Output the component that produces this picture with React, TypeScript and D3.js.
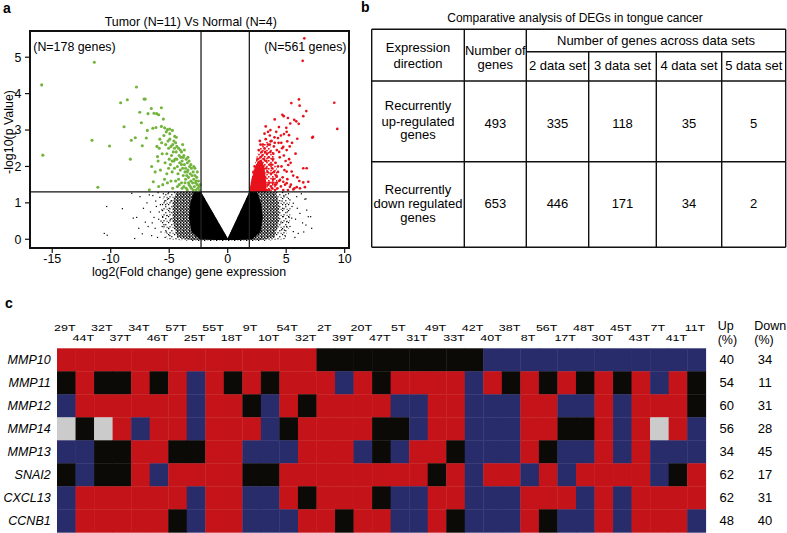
import React from 'react';
import * as d3 from 'd3';

const FONT = '"Liberation Sans", Arial, Helvetica, sans-serif';

// ---------------- Panel a: volcano plot ----------------
const volcanoTitle = 'Tumor (N=11) Vs Normal (N=4)';
const volcanoXLabel = 'log2(Fold change) gene expression';
const volcanoYLabel = '-log10(p Value)';
const xTicks = [-15, -10, -5, 0, 5, 10];
const yTicks = [0, 1, 2, 3, 4, 5];
const fcThresholds = [-2.28, 1.85];
const pThreshold = 1.3;
const downGenes = 178;
const upGenes = 561;

const greenPoints: [number, number][] = [
  [-15.9, 4.24], [-11.4, 4.86], [-15.8, 2.31], [-11.6, 2.72], [-11.1, 1.43], [-10.1, 2.56],
  [-9.15, 3.75], [-8.58, 3.83], [-7.8, 4.18], [-7.15, 3.85], [-7.05, 3.85], [-8.86, 3.09],
  [-8.32, 2.2], [-8.24, 2.72], [-7.9, 2.79], [-7.52, 3.49], [-7.38, 3.2], [-6.96, 2.78],
  [-6.87, 2.99], [-6.81, 3.45], [-6.53, 3.59], [-6.3, 3.46], [-6.07, 3.45], [-5.9, 3.42],
  [-5.67, 3.61], [-6.4, 3.05], [-6.13, 3.07], [-5.67, 3.1], [-5.39, 3.06], [-5.16, 3.01],
  [-4.96, 3.03], [-4.73, 2.99], [-4.53, 2.83],
  [-6.5, 2.0], [-6.36, 1.58], [-6.7, 1.36], [-7.3, 2.57], [-6.0, 2.27], [-6.2, 1.85],
  [-5.9, 1.45], [-6.05, 2.55], [-5.8, 2.75], [-5.95, 2.15],
  [-5.75, 1.9], [-5.6, 2.35], [-5.55, 1.5], [-5.85, 2.5], [-5.5, 3.3], [-5.65, 2.65],
  [-5.45, 2.85], [-5.3, 2.6], [-5.2, 2.35], [-5.1, 2.7], [-5.35, 2.1], [-5.2, 1.8],
  [-5.05, 2.5], [-5.15, 1.55], [-5.4, 1.65], [-5.0, 2.2], [-5.25, 2.95], [-5.05, 1.95],
  [-4.95, 2.75], [-4.85, 2.55], [-4.8, 2.3], [-4.9, 2.05], [-4.75, 1.85], [-4.7, 2.6],
  [-4.65, 2.4], [-4.6, 2.15], [-4.55, 1.95], [-4.85, 1.6], [-4.7, 1.4], [-4.6, 2.7],
  [-4.95, 2.9], [-4.55, 2.5], [-4.75, 2.15],
  [-4.45, 2.65], [-4.4, 2.4], [-4.35, 2.2], [-4.3, 2.0], [-4.25, 1.8], [-4.45, 1.6],
  [-4.2, 2.5], [-4.15, 2.3], [-4.1, 2.1], [-4.05, 1.9], [-4.4, 2.8], [-4.3, 1.45],
  [-4.2, 1.65], [-4.05, 2.45], [-4.35, 2.55], [-4.15, 1.5], [-4.0, 2.25], [-4.5, 2.2],
  [-3.95, 2.4], [-3.9, 2.15], [-3.85, 1.95], [-3.8, 1.75], [-3.95, 1.55], [-3.75, 2.3],
  [-3.7, 2.05], [-3.65, 1.85], [-3.6, 1.65], [-3.9, 1.4], [-3.55, 2.2], [-3.75, 1.45],
  [-3.6, 1.95], [-3.85, 2.6], [-3.5, 1.75], [-3.7, 2.45], [-3.55, 1.4], [-3.95, 2.05],
  [-3.8, 2.25], [-3.65, 1.55],
  [-3.45, 2.1], [-3.4, 1.9], [-3.35, 1.7], [-3.3, 1.5], [-3.45, 1.35], [-3.25, 2.0],
  [-3.2, 1.8], [-3.15, 1.6], [-3.1, 1.4], [-3.4, 2.25], [-3.05, 1.75], [-3.3, 2.15],
  [-3.2, 1.45], [-3.1, 1.95], [-3.35, 1.55], [-3.0, 1.55], [-3.45, 1.85], [-3.15, 2.05],
  [-2.95, 1.85], [-2.9, 1.65], [-2.85, 1.45], [-2.8, 1.75], [-2.75, 1.55], [-2.7, 1.35],
  [-2.65, 1.7], [-2.6, 1.5], [-2.55, 1.4], [-2.5, 1.6], [-2.45, 1.45], [-2.4, 1.35],
  [-2.95, 1.35], [-2.8, 1.95], [-2.35, 1.5], [-2.6, 1.85], [-2.7, 1.6], [-2.9, 2.0],
];

const redPoints: [number, number][] = [
  [6.55, 5.52], [6.41, 4.9], [9.11, 3.75], [9.37, 3.03], [7.23, 2.79], [5.44, 3.74],
  [6.09, 3.84], [6.15, 3.67], [6.72, 3.52], [6.46, 3.38], [5.86, 3.24], [5.69, 3.28],
  [6.07, 3.17], [5.15, 3.33], [5.35, 3.18], [4.67, 3.42], [4.79, 3.38], [4.02, 3.29],
  [4.38, 3.08], [5.01, 3.06], [5.04, 2.95], [5.95, 2.76], [7.29, 2.81], [5.24, 2.86],
  [4.81, 2.89], [3.67, 2.69], [4.02, 2.65], [4.3, 2.78], [4.58, 2.65], [5.09, 2.69],
  [4.75, 2.54], [5.04, 2.45], [5.38, 2.1], [6.46, 1.95], [6.75, 1.95], [6.12, 1.6],
  [6.46, 1.56], [6.89, 1.58], [6.6, 1.43], [6.18, 1.4], [5.9, 1.43], [5.61, 1.37],
  [5.32, 1.44], [5.04, 1.54], [4.75, 1.58], [4.47, 1.63], [4.19, 1.72], [5.04, 1.86],
  [5.47, 1.86], [5.18, 2.04],
  [2.05, 1.4], [2.1, 1.5], [2.2, 1.65], [2.25, 1.45], [2.3, 1.75], [2.35, 1.55],
  [2.4, 1.9], [2.45, 1.4], [2.15, 1.35], [2.4, 1.65], [2.3, 2.0], [2.2, 1.85],
  [2.55, 1.5], [2.6, 1.8], [2.65, 2.1], [2.7, 1.4], [2.75, 1.95], [2.8, 2.25],
  [2.85, 1.6], [2.9, 2.4], [2.95, 1.75], [2.55, 2.2], [2.65, 2.45], [2.7, 1.65],
  [2.8, 2.6], [2.6, 1.35], [2.9, 2.05], [2.95, 2.3], [2.5, 1.95], [2.75, 2.7],
  [3.05, 1.45], [3.1, 2.2], [3.15, 2.5], [3.2, 1.7], [3.25, 2.75], [3.3, 1.95],
  [3.35, 2.35], [3.4, 1.5], [3.45, 2.6], [3.05, 2.0], [3.15, 2.9], [3.3, 2.15],
  [3.4, 1.85], [3.45, 2.95], [3.2, 2.4], [3.35, 1.35], [3.1, 1.6], [3.5, 2.25],
  [3.0, 2.6], [3.25, 3.1],
  [3.55, 1.55], [3.6, 2.05], [3.65, 2.4], [3.7, 1.8], [3.75, 2.7], [3.8, 1.4],
  [3.85, 2.2], [3.9, 1.65], [3.95, 2.55], [3.6, 2.85], [3.7, 1.45], [3.8, 1.95],
  [3.9, 2.35], [3.55, 1.35], [3.65, 3.0], [3.75, 2.05], [3.85, 1.55], [3.95, 1.85],
  [3.6, 2.6],
  [4.05, 1.5], [4.1, 2.1], [4.15, 1.75], [4.2, 2.45], [4.25, 1.4], [4.3, 2.0],
  [4.35, 2.65], [4.4, 1.6], [4.45, 2.25], [4.0, 2.8], [4.15, 2.95], [4.3, 1.85],
  [4.4, 2.4], [4.05, 1.35], [4.2, 1.55],
  [4.55, 1.45], [4.6, 2.0], [4.7, 1.7], [4.8, 2.3], [4.9, 1.5], [4.65, 2.5],
  [4.85, 1.9], [4.95, 2.15], [4.55, 2.85], [4.75, 1.35],
  [5.1, 1.65], [5.25, 2.2], [5.4, 1.5], [5.6, 1.75], [5.8, 2.35], [5.3, 2.55],
  [5.7, 1.4], [5.15, 1.35], [5.95, 1.7], [5.5, 2.65],
];

const blackPoints: [number, number][] = [
  [-8.2, 1.26], [-7.5, 1.17], [-10.34, 0.9], [-9.0, 0.84], [-8.07, 0.58], [-7.78, 0.6],
  [-7.04, 0.47], [-10.55, 0.16], [-10.3, 0.11], [-7.95, 0.02],
  [-6.9, 1.0], [-6.6, 0.75], [-6.4, 1.2], [-6.2, 0.3], [-6.5, 0.1], [-6.1, 0.9],
  [-5.9, 0.55], [-5.8, 1.15], [-5.7, 0.2], [-5.6, 0.8], [-5.5, 1.25], [-5.45, 0.4],
  [-5.35, 0.05], [-5.3, 0.95], [-5.2, 0.65], [-5.15, 1.1], [-5.05, 0.3], [-5.0, 0.85],
  [-6.8, 0.35], [-7.2, 0.85], [-6.3, 0.6], [-6.0, 0.05], [-5.75, 0.95], [-5.55, 0.6],
  [-5.25, 0.2], [-7.3, 0.15], [-6.7, 1.22], [-5.95, 1.28], [-5.6, 0.35], [-5.1, 1.25],
  [-6.45, 0.45], [-7.6, 0.3], [-5.85, 0.75], [-5.4, 1.05], [-4.95, 0.1], [-4.9, 0.55],
  [-4.85, 1.05], [-5.7, 0.5], [-6.15, 1.05], [-4.95, 0.75],
  [5.9, 1.17], [6.6, 1.1], [5.32, 1.08], [5.61, 0.99], [6.89, 0.62], [7.18, 0.3],
  [6.69, 0.39], [6.18, 0.71], [5.47, 0.58], [4.75, 0.62], [5.04, 0.35], [5.61, 0.21],
  [4.61, 0.26], [6.69, 1.11], [7.09, 0.62], [6.75, 0.8], [5.5, 0.9], [5.32, 0.35],
  [6.03, 0.16], [5.04, 0.48], [4.8, 1.2], [4.95, 0.95], [5.2, 1.25], [5.1, 0.75],
  [4.7, 0.85], [4.65, 1.05], [5.8, 0.55], [6.3, 1.25], [6.4, 0.45], [5.75, 0.05],
  [4.9, 0.1], [5.25, 0.6], [4.55, 0.45], [5.95, 0.85], [6.5, 0.2], [4.85, 0.25],
];

// dense black clouds (outlines of the regions packed with points)
const blackCoreLeft: [number, number][] = [
  [0, 0.03], [-2.28, 1.3], [-2.9, 1.3], [-3.2, 1.0], [-3.3, 0.6], [-3.1, 0.2], [-2.4, 0.0], [-1.0, -0.02], [0, -0.02],
];
const blackCoreRight: [number, number][] = [
  [0, 0.03], [1.85, 1.3], [2.5, 1.3], [2.85, 1.0], [3.0, 0.6], [2.8, 0.2], [2.1, 0.0], [0.8, -0.02], [0, -0.02],
];
const blackMidLeft: [number, number][] = [
  [0, 0.02], [-2.28, 1.3], [-4.4, 1.3], [-4.7, 1.0], [-4.7, 0.5], [-4.3, 0.05], [-3.0, -0.03], [0, -0.03],
];
const blackMidRight: [number, number][] = [
  [0, 0.02], [1.85, 1.3], [4.1, 1.3], [4.4, 1.0], [4.4, 0.5], [4.0, 0.05], [2.8, -0.03], [0, -0.03],
];
const blackOuterLeft: [number, number][] = [
  [0, 0.0], [-2.28, 1.3], [-5.4, 1.3], [-5.7, 0.9], [-5.6, 0.4], [-5.2, 0.0], [-3.0, -0.05], [0, -0.05],
];
const blackOuterRight: [number, number][] = [
  [0, 0.0], [1.85, 1.3], [5.1, 1.3], [5.4, 0.9], [5.3, 0.4], [4.9, 0.0], [3.0, -0.05], [0, -0.05],
];
const redCore: [number, number][] = [
  [1.85, 1.3], [2.0, 1.6], [2.3, 1.95], [2.6, 2.15], [2.9, 2.2], [3.15, 1.95], [3.3, 1.55], [3.3, 1.3],
];
const redHalo: [number, number][] = [
  [1.85, 1.3], [2.1, 1.8], [2.5, 2.3], [2.9, 2.6], [3.4, 2.7], [3.9, 2.4], [4.2, 1.9], [4.3, 1.3],
];

// ---------------- Panel b: table ----------------
const tableTitle = 'Comparative analysis of DEGs in tongue cancer';
const dataSetHeaders = ['2 data set', '3 data set', '4 data set', '5 data set'];
const directionLabels = [
  ['Recurrently', 'up-regulated', 'genes'],
  ['Recurrently', 'down regulated', 'genes'],
];
const totalGenes = [493, 653];
const genesAcross = [
  [335, 118, 35, 5],
  [446, 171, 34, 2],
];

// ---------------- Panel c: heatmap ----------------
const sampleLabels = [
  '29T', '44T', '32T', '37T', '34T', '46T', '57T', '25T', '55T', '18T', '9T', '10T',
  '54T', '32T', '2T', '39T', '20T', '47T', '5T', '31T', '49T', '33T', '42T', '40T',
  '38T', '8T', '56T', '17T', '48T', '30T', '45T', '43T', '7T', '41T', '11T',
];
const geneLabels = ['MMP10', 'MMP11', 'MMP12', 'MMP14', 'MMP13', 'SNAI2', 'CXCL13', 'CCNB1'];
// R = up, B = down, K = no change, G = not available
const heatRows = [
  'RRRRRRRRRRRRRR' + 'KKKKKKKKK' + 'BBBBBBBBBBBB',
  'KRKKR' + 'KRBRK' + 'RKRRR' + 'BRKRR' + 'RRBRK' + 'RKRKR' + 'KRBRK',
  'BRRRR' + 'RRBRR' + 'KBRKR' + 'RRRBB' + 'RRBBB' + 'RRBBR' + 'BRRRK',
  'GKGRB' + 'RRBRR' + 'RBKRR' + 'RRKKB' + 'RRBBB' + 'RRKKR' + 'BRGRB',
  'BBKKR' + 'RKKRR' + 'BBBRR' + 'RBKBR' + 'RKBBB' + 'RKBBR' + 'BRBBB',
  'KBKKR' + 'BRRRR' + 'KKRRR' + 'RRRRR' + 'KRBRR' + 'BRBRR' + 'RRBKR',
  'BRRRR' + 'RRBRR' + 'BBRKR' + 'RRKBB' + 'RRBBB' + 'RRRBR' + 'BRRRR',
  'BRRRR' + 'RKBRR' + 'BBBRR' + 'KRRBB' + 'RKBBB' + 'RKBBR' + 'BRRRB',
];
const upPercent = [40, 54, 60, 56, 34, 62, 62, 48];
const downPercent = [34, 11, 31, 28, 45, 17, 31, 40];

const cellColor: Record<string, string> = {
  R: '#c51419',
  B: '#282c6b',
  K: '#0c0a07',
  G: '#cbcbcb',
};

export default function App() {
  const W = 787;
  const H = 533;

  // ---- volcano scales
  const xV = d3.scaleLinear().domain([-16.9, 10.37]).range([30, 349]);
  const yV = d3.scaleLinear().domain([-0.24, 5.72]).range([248, 31]);
  const area = (pts: [number, number][]) =>
    (d3.line<[number, number]>().x((d) => xV(d[0])).y((d) => yV(d[1]))(pts) || '') + 'Z';

  // ---- table layout
  const tCols = [371.7, 464.3, 526.3, 588.7, 656.3, 721.7, 785.7];
  const tRows = [29.3, 81, 161.7, 247.3];
  const tSub = 51.7;
  const colMid = (i: number) => (tCols[i] + tCols[i + 1]) / 2;
  const rowTextBase = [
    [110, 125.5, 139],
    [193.5, 207.5, 221.5],
  ];
  const rowNumBase = [128.3, 208.3];

  // ---- heatmap scales
  const xH = d3.scaleBand<number>().domain(d3.range(sampleLabels.length)).range([57, 705.7]);
  const yH = d3.scaleBand<number>().domain(d3.range(geneLabels.length)).range([348.3, 532.3]);
  const bw = xH.bandwidth();
  const bh = yH.bandwidth();

  return (
    <svg
      width={W}
      height={H}
      style={{ position: 'absolute', left: 0, top: 0, background: '#fff' }}
      fontFamily={FONT}
    >
      <defs>
        <clipPath id="vclip">
          <rect x={30} y={31} width={319} height={217} />
        </clipPath>
        <pattern id="speckA" width={3} height={3} patternUnits="userSpaceOnUse">
          <rect x={0} y={0} width={1.5} height={1.5} fill="#000" />
          <rect x={1.6} y={1.3} width={1.4} height={1.4} fill="#000" />
          <rect x={0.3} y={2.2} width={0.9} height={0.8} fill="#000" />
        </pattern>
        <pattern id="speckB" width={6} height={6} patternUnits="userSpaceOnUse">
          <rect x={0} y={0} width={1.2} height={1.2} fill="#000" />
          <rect x={3.2} y={2.1} width={1.2} height={1.2} fill="#000" />
          <rect x={1.4} y={4.2} width={1.2} height={1.2} fill="#000" />
          <rect x={4.6} y={4.8} width={1.0} height={1.0} fill="#000" />
        </pattern>
        <pattern id="speckR" width={4} height={4} patternUnits="userSpaceOnUse">
          <rect x={0} y={0} width={1.6} height={1.6} fill="#e8121c" />
          <rect x={2.2} y={1.8} width={1.6} height={1.6} fill="#e8121c" />
        </pattern>
      </defs>

      {/* ================= Panel a ================= */}
      <text x={3} y={13} fontSize={14} fontWeight="bold">a</text>
      <text x={190.8} y={25.7} fontSize={12.4} textAnchor="middle">{volcanoTitle}</text>
      <g clipPath="url(#vclip)">
        <path d={area(blackOuterLeft)} fill="url(#speckB)" />
        <path d={area(blackOuterRight)} fill="url(#speckB)" />
        <path d={area(blackMidLeft)} fill="url(#speckA)" />
        <path d={area(blackMidRight)} fill="url(#speckA)" />
        <path d={area(blackCoreLeft)} fill="#000" />
        <path d={area(blackCoreRight)} fill="#000" />
        {blackPoints.map((d, i) => (
          <rect key={'k' + i} x={xV(d[0]) - 0.6} y={yV(d[1]) - 0.6} width={1.2} height={1.2} fill="#000" />
        ))}
        <path d={area(redHalo)} fill="url(#speckR)" />
        <path d={area(redCore)} fill="#e8121c" />
        {redPoints.map((d, i) => (
          <circle key={'r' + i} cx={xV(d[0])} cy={yV(d[1])} r={1.35} fill="#e8121c" />
        ))}
        {greenPoints.map((d, i) => (
          <circle key={'g' + i} cx={xV(d[0])} cy={yV(d[1])} r={1.55} fill="#72b43c" />
        ))}
      </g>
      {fcThresholds.map((t) => (
        <line key={'fc' + t} x1={xV(t)} x2={xV(t)} y1={31} y2={248} stroke="#222" strokeWidth={1.3} />
      ))}
      <line x1={30} x2={349} y1={yV(pThreshold)} y2={yV(pThreshold)} stroke="#111" strokeWidth={1.3} />
      <rect x={30} y={31} width={319} height={217} fill="none" stroke="#111" strokeWidth={2} />
      <text x={33.3} y={50.7} fontSize={12.4}>{`(N=${downGenes} genes)`}</text>
      <text x={346.5} y={50.7} fontSize={12.4} textAnchor="end">{`(N=${upGenes} genes)`}</text>
      {yTicks.map((t) => (
        <g key={'yt' + t}>
          <line x1={25} x2={30} y1={yV(t)} y2={yV(t)} stroke="#111" strokeWidth={1.2} />
          <text x={21.5} y={yV(t) + 4.4} fontSize={12.4} textAnchor="end">{t}</text>
        </g>
      ))}
      {xTicks.map((t) => (
        <g key={'xt' + t}>
          <line x1={xV(t)} x2={xV(t)} y1={248} y2={253} stroke="#111" strokeWidth={1.2} />
          <text x={xV(t)} y={263.3} fontSize={12.4} textAnchor="middle">{t}</text>
        </g>
      ))}
      <text x={189} y={276} fontSize={12.4} textAnchor="middle">{volcanoXLabel}</text>
      <text
        transform="translate(12.5,132) rotate(-90)"
        fontSize={12.4}
        textAnchor="middle"
      >
        {volcanoYLabel}
      </text>

      {/* ================= Panel b ================= */}
      <text x={361} y={12} fontSize={14} fontWeight="bold">b</text>
      <text x={575} y={21.5} fontSize={12} textAnchor="middle">{tableTitle}</text>
      <g stroke="#111" strokeWidth={1.4}>
        {tRows.map((y, i) => (
          <line key={'tr' + i} x1={tCols[0]} x2={tCols[6]} y1={y} y2={y} />
        ))}
        <line x1={tCols[2]} x2={tCols[6]} y1={tSub} y2={tSub} />
        {tCols.map((x, i) => (
          <line key={'tc' + i} x1={x} x2={x} y1={i >= 3 && i <= 5 ? tSub : tRows[0]} y2={tRows[3]} />
        ))}
      </g>
      <g fontSize={13} textAnchor="middle">
        <text x={colMid(0)} y={52.3}>Expression</text>
        <text x={colMid(0)} y={68}>direction</text>
        <text x={colMid(1)} y={54.6}>Number of</text>
        <text x={colMid(1)} y={69}>genes</text>
        <text x={(tCols[2] + tCols[6]) / 2} y={44.5}>Number of genes across data sets</text>
        {dataSetHeaders.map((h, i) => (
          <text key={'dh' + i} x={colMid(i + 2)} y={70}>{h}</text>
        ))}
        {directionLabels.map((lines, r) =>
          lines.map((s, j) => (
            <text key={'dl' + r + j} x={colMid(0)} y={rowTextBase[r][j]}>{s}</text>
          ))
        )}
        {totalGenes.map((v, r) => (
          <text key={'tg' + r} x={colMid(1)} y={rowNumBase[r]}>{v}</text>
        ))}
        {genesAcross.map((row, r) =>
          row.map((v, c) => (
            <text key={'ga' + r + c} x={colMid(c + 2)} y={rowNumBase[r]}>{v}</text>
          ))
        )}
      </g>

      {/* ================= Panel c ================= */}
      <text x={5} y={308} fontSize={14} fontWeight="bold">c</text>
      {sampleLabels.map((s, i) => (
        <text
          key={'sl' + i}
          transform={`translate(${(xH(i) as number) + bw / 2 - 1.5},${i % 2 === 0 ? 331.3 : 341.3}) scale(1,0.74)`}
          fontSize={12.5}
          textAnchor="middle"
        >
          {s}
        </text>
      ))}
      {heatRows.map((row, r) =>
        row.split('').map((c, i) => (
          <rect
            key={'c' + r + '-' + i}
            x={xH(i) as number}
            y={yH(r) as number}
            width={bw + 0.4}
            height={bh + 0.4}
            fill={cellColor[c]}
          />
        ))
      )}
      {geneLabels.map((g, r) => (
        <text
          key={'gl' + r}
          x={50.7}
          y={(yH(r) as number) + bh / 2 + 4.4}
          fontSize={12.5}
          fontStyle="italic"
          textAnchor="end"
        >
          {g}
        </text>
      ))}
      <g fontSize={12.5}>
        <text x={717.7} y={329.5}>Up</text>
        <text x={717.7} y={343.5}>(%)</text>
        <text x={754.3} y={329.5}>Down</text>
        <text x={754.3} y={343.5}>(%)</text>
      </g>
      {upPercent.map((v, r) => (
        <text key={'up' + r} x={726.7} y={(yH(r) as number) + bh / 2 + 4.6} fontSize={13} textAnchor="middle">
          {v}
        </text>
      ))}
      {downPercent.map((v, r) => (
        <text key={'dn' + r} x={765} y={(yH(r) as number) + bh / 2 + 4.6} fontSize={13} textAnchor="middle">
          {v}
        </text>
      ))}
    </svg>
  );
}
